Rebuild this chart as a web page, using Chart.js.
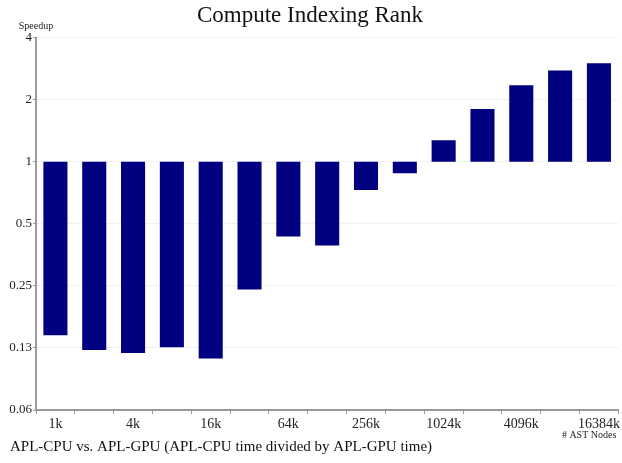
<!DOCTYPE html>
<html lang="en">
<head>
  <meta charset="UTF-8">
  <title>Compute Indexing Rank</title>
  <script src="https://cdn.jsdelivr.net/npm/chart.js"></script>
  <style>
    html, body {
      margin: 0;
      padding: 0;
      background: #ffffff;
    }
    #box {
      width: 622px;
      height: 463px;
    }
  </style>
</head>
<body>
  <div id="box">
    <canvas id="speedChart"></canvas>
  </div>

  <script>
    const categories = ["1k", "2k", "4k", "8k", "16k", "32k", "64k", "128k", "256k", "512k",
                        "1024k", "2048k", "4096k", "8192k", "16384k"];
    const speedups = [0.144, 0.122, 0.118, 0.126, 0.111, 0.24, 0.434, 0.392, 0.73, 0.88,
                      1.27, 1.80, 2.35, 2.77, 3.0];
    const yTickValues = [0.0625, 0.125, 0.25, 0.5, 1, 2, 4];
    const yTickLabels = ["0.06", "0.13", "0.25", "0.5", "1", "2", "4"];

    const serif = "'Liberation Serif', 'DejaVu Serif', serif";
    const caption = "APL-CPU vs. APL-GPU (APL-CPU time divided by APL-GPU time)";

    // bars float from 1 to the speedup value
    const barData = speedups.map(v => [1, v]);

    // small labels: "Speedup" above the y axis, "# AST Nodes" under the x axis, caption at the bottom
    const axisNotes = {
      id: "axisNotes",
      afterDraw(chart) {
        const ctx = chart.ctx;
        const area = chart.chartArea;
        ctx.save();
        ctx.fillStyle = "#222";
        ctx.font = "10px " + serif;
        ctx.textAlign = "center";
        ctx.textBaseline = "middle";
        ctx.fillText("Speedup", area.left, 26);
        ctx.textAlign = "right";
        ctx.fillText("# AST Nodes", area.right - 2, area.bottom + 25);
        ctx.fillStyle = "#111";
        ctx.font = "15px " + serif;
        ctx.textAlign = "left";
        ctx.fillText(caption, 10, area.bottom + 37);
        ctx.restore();
      }
    };

    new Chart(document.getElementById("speedChart"), {
      type: "bar",
      data: {
        labels: categories,
        datasets: [{
          label: "Speedup",
          data: barData,
          backgroundColor: "#000080",
          borderWidth: 0,
          categoryPercentage: 1.0,
          barPercentage: 0.62
        }]
      },
      options: {
        responsive: true,
        maintainAspectRatio: false,
        animation: false,
        layout: {
          padding: { left: 0, right: 2, top: 2, bottom: 25 }
        },
        plugins: {
          legend: { display: false },
          tooltip: { enabled: false },
          title: {
            display: true,
            text: "Compute Indexing Rank",
            color: "#111",
            font: { family: serif, size: 23, weight: "normal" },
            padding: { top: 0, bottom: 8 }
          }
        },
        scales: {
          x: {
            offset: true,
            grid: {
              offset: true,
              drawOnChartArea: false,
              drawTicks: true,
              tickLength: 4,
              color: "#999"
            },
            border: { color: "#9a9a9a", width: 2 },
            ticks: {
              autoSkip: false,
              maxRotation: 0,
              color: "#222",
              padding: 2,
              font: { family: serif, size: 14 },
              callback: (val, i) => (i % 2 === 0 ? categories[i] : "")
            },
            afterFit: scale => { scale.height = 28; }
          },
          y: {
            type: "logarithmic",
            min: 0.0625,
            max: 4,
            afterBuildTicks: scale => {
              scale.ticks = yTickValues.map(v => ({ value: v }));
            },
            grid: {
              color: "#f1f1f1",
              tickColor: "#999",
              tickLength: 3
            },
            border: { color: "#9a9a9a", width: 2 },
            ticks: {
              color: "#222",
              padding: 1,
              font: { family: serif, size: 13 },
              callback: val => {
                const i = yTickValues.indexOf(val);
                return i >= 0 ? yTickLabels[i] : "";
              }
            },
            afterFit: scale => { scale.width = 36; }
          }
        }
      },
      plugins: [axisNotes]
    });
  </script>
</body>
</html>
